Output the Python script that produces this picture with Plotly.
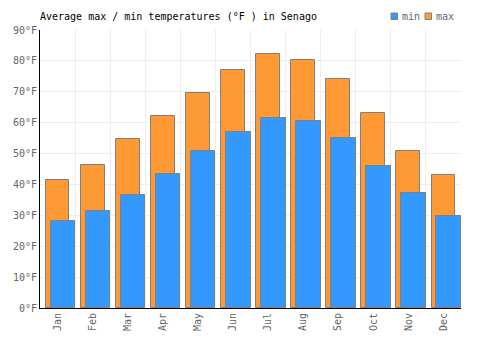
import plotly.graph_objects as go

months = ["Jan", "Feb", "Mar", "Apr", "May", "Jun", "Jul", "Aug", "Sep", "Oct", "Nov", "Dec"]
max_temp = [41.4, 46.3, 54.8, 62.2, 69.7, 77.0, 82.3, 80.3, 74.1, 63.1, 50.8, 43.1]
min_temp = [28.2, 31.4, 36.7, 43.4, 50.8, 57.0, 61.5, 60.6, 55.1, 46.1, 37.2, 29.8]
y_ticks = [0, 10, 20, 30, 40, 50, 60, 70, 80, 90]
series = [("min", "#3399ff"), ("max", "#ff9933")]

FONT = "DejaVu Sans Mono"
BORDER = "#808080"
W, H = 500, 350
L, R, T, B = 40, 39, 30, 42
PW, PH = W - L - R, H - T - B

def px_x(px):
    return (px - L) / PW

def px_y(py):
    return (H - B - py) / PH

fig = go.Figure()
fig.add_trace(go.Bar(
    x=months, y=max_temp, name="max",
    marker=dict(color="#ff9933", line=dict(color=BORDER, width=1)),
    offset=-0.34, width=0.68,
))
fig.add_trace(go.Bar(
    x=months, y=min_temp, name="min",
    marker=dict(color="#3399ff", line=dict(color=BORDER, width=1)),
    offset=-0.2, width=0.7,
))

shapes = []
annotations = []
legend_x = [391, 425]
for (name, color), lx in zip(series, legend_x):
    shapes.append(dict(type="rect", xref="paper", yref="paper",
                       x0=px_x(lx), x1=px_x(lx + 6.5), y0=px_y(19.5), y1=px_y(13),
                       fillcolor=color, line=dict(color=BORDER, width=1)))
    annotations.append(dict(text=name, xref="paper", yref="paper",
                            x=px_x(lx + 8.5), y=px_y(16), xanchor="left", yanchor="middle",
                            showarrow=False,
                            font=dict(family=FONT, size=10, color="#666666")))

fig.update_layout(
    width=W, height=H,
    margin=dict(l=L, r=R, t=T, b=B, autoexpand=False),
    paper_bgcolor="white", plot_bgcolor="white",
    barmode="overlay",
    showlegend=False,
    font=dict(family=FONT, size=10, color="#666666"),
    title=dict(text="Average max / min temperatures (°F ) in Senago",
               x=40/W, xanchor="left", y=1-16/H, yanchor="middle",
               font=dict(family=FONT, size=10, color="#000000")),
    shapes=shapes,
    annotations=annotations,
    xaxis=dict(type="category", tickangle=-90, showgrid=True, gridcolor="#eeeeee",
               tickson="boundaries", ticks="", showline=True, linecolor="#000000",
               linewidth=1, tickfont=dict(family=FONT, size=10, color="#666666")),
    yaxis=dict(range=[0, 90], tickvals=y_ticks, ticktext=[f"{v}°F" for v in y_ticks],
               showgrid=True, gridcolor="#eeeeee", zeroline=False, showline=True,
               linecolor="#000000", linewidth=1, ticks="",
               tickfont=dict(family=FONT, size=10, color="#666666")),
    bargap=0,
)

fig.write_html("out.html")
